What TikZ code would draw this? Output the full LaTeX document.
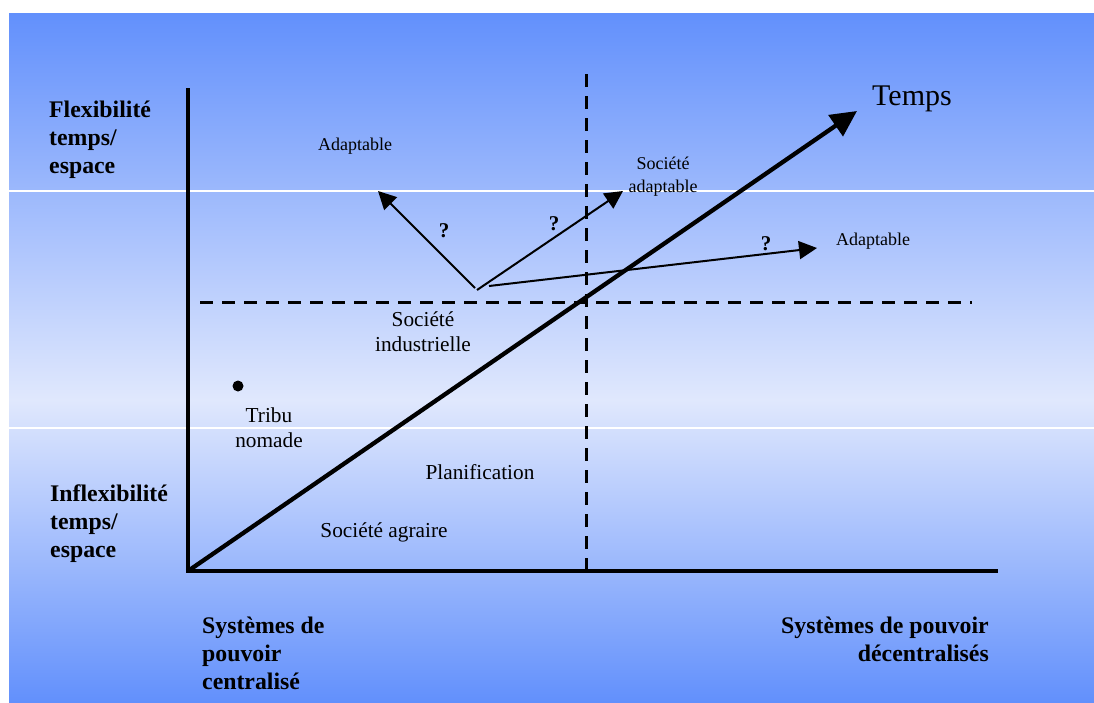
\documentclass[tikz,border=0pt]{standalone}
\usepackage{fontspec}
\setmainfont{Liberation Serif}
\usetikzlibrary{arrows.meta}
\definecolor{bgdark}{RGB}{98,144,252}
\definecolor{bglight}{RGB}{224,232,253}
\tikzset{
  boldlbl/.style={font=\bfseries\fontsize{23.8}{28}\selectfont, inner sep=0pt},
  txt/.style={font=\fontsize{21.3}{24.5}\selectfont, inner sep=0pt, align=center},
  smalltxt/.style={font=\fontsize{18}{23}\selectfont, inner sep=0pt, align=center},
  qmark/.style={font=\bfseries\fontsize{21}{24}\selectfont, inner sep=0pt},
  axis/.style={line width=4.5pt},
  dashline/.style={line width=3pt, dash pattern=on 13pt off 9pt},
  thinarrow/.style={line width=2pt, -{Triangle[length=18pt,width=18pt]}},
  bigarrow/.style={line width=4.3pt, -{Triangle[length=26pt,width=25pt]}}
}
\begin{document}
\begin{tikzpicture}[x=1pt,y=-1pt]
\useasboundingbox (0,0) rectangle (1094,702);
\fill[white] (0,0) rectangle (1094,702);
\shade[top color=bgdark, bottom color=bglight] (9,13) rectangle (1094,400);
\shade[top color=bglight, bottom color=bgdark] (9,399.5) rectangle (1094,702);
\draw[white, line width=1.2pt] (9,191) -- (1094,191);
\draw[white, line width=1.2pt] (9,428) -- (1094,428);

% coordinates
\coordinate (O) at (188,571);
\coordinate (Ytop) at (188,88);
\coordinate (Xend) at (998,571);
\coordinate (Ttip) at (857,111);
\coordinate (Vtop) at (586,74);
\coordinate (Vbot) at (586,570);
\coordinate (Hl) at (200,302);
\coordinate (Hr) at (972,302);
\coordinate (S1) at (475,288);
\coordinate (S2) at (477,290);
\coordinate (S3) at (489,286);
\coordinate (A1) at (378,191);
\coordinate (A2) at (623,191);
\coordinate (A3) at (817,248);

% dashed lines
\draw[dashline] (Vtop) -- (Vbot);
\draw[dashline] (Hl) -- (Hr);

% axes
\draw[axis] (Ytop) -- ([yshift=2.25pt]O);
\draw[axis] ([xshift=-2.25pt]O) -- (Xend);

% time arrow
\draw[bigarrow] (O) -- (Ttip);

% thin arrows
\draw[thinarrow] (S1) -- (A1);
\draw[thinarrow] (S2) -- (A2);
\draw[thinarrow] (S3) -- (A3);

% dot
\fill (238,386) circle (5.5pt) node (dot) {};

% labels (base anchor of multi-line nodes = last line)
\node[boldlbl, anchor=base west, align=left] (flex) at (49,173) {Flexibilité\\temps/\\espace};
\node[boldlbl, anchor=base west, align=left] (inflex) at (50,557) {Inflexibilité\\temps/\\espace};
\node[boldlbl, anchor=base west, align=left] (central) at (202,689) {Systèmes de\\pouvoir\\centralisé};
\node[boldlbl, anchor=base east, align=right] (decentral) at (989,661) {Systèmes de pouvoir\\décentralisés};
\node[font=\fontsize{30}{34}\selectfont, inner sep=0pt, anchor=base west] (temps) at (872,105) {Temps};
\node[smalltxt, anchor=base] (adapt1) at (355,150) {Adaptable};
\node[smalltxt, anchor=base] (adapt2) at (663,192) {Société\\adaptable};
\node[smalltxt, anchor=base west] (adapt3) at (836,245) {Adaptable};
\node[qmark] (q1) at (444,231) {?};
\node[qmark] (q2) at (554,224) {?};
\node[qmark] (q3) at (766,244) {?};
\node[txt, anchor=base] (indus) at (423,351) {Société\\industrielle};
\node[txt, anchor=base] (tribu) at (269,447) {Tribu\\nomade};
\node[txt, anchor=base] (plan) at (480,479) {Planification};
\node[txt, anchor=base] (agraire) at (384,537) {Société agraire};
\end{tikzpicture}
\end{document}
